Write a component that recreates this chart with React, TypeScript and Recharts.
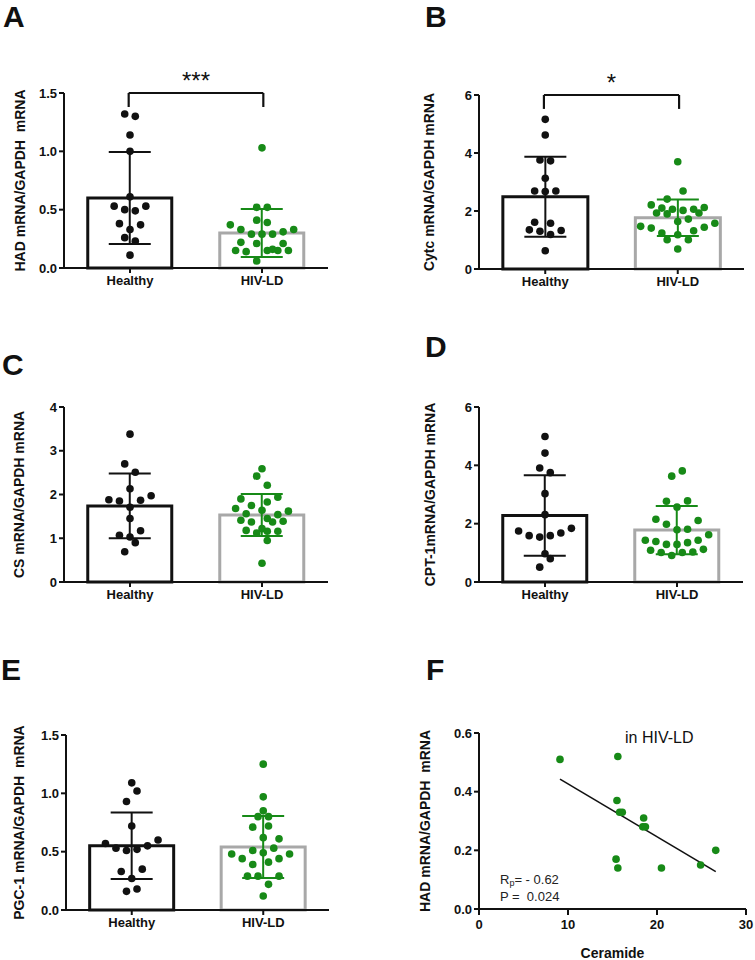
import React from "react";
import {
  Bar,
  Cell,
  ComposedChart,
  ErrorBar,
  ReferenceLine,
  Scatter,
  XAxis,
  YAxis,
} from "recharts";

const FONT = "'Liberation Sans', Arial, Helvetica, sans-serif";
const INK = "#111111";
const GREY = "#a8a8a8";
const GREEN = "#178a17";

const groups = ["Healthy", "HIV-LD"];

// A - HAD
const hadMean = [0.6, 0.3];
const hadSd = [0.395, 0.205];
const hadHealthy = [1.32, 1.3, 1.14, 1.0, 0.61, 0.53, 0.5, 0.49, 0.53, 0.38, 0.37, 0.33, 0.26, 0.23, 0.11];
const hadHealthyLane = [-1, 1, 0, 0, 0, -3, -1, 1, 3, -2, 2, 0, -1, 1, 0];
const hadHiv = [1.03, 0.52, 0.52, 0.37, 0.41, 0.39, 0.33, 0.29, 0.29, 0.29, 0.31, 0.33, 0.22, 0.21, 0.21, 0.15, 0.14, 0.15, 0.16, 0.15, 0.15, 0.06];
const hadHivLane = [0, -1, 1, -6, -1, 1, -4, -2, 0, 2, 4, 6, -4, -1, 4, -5, -3, 1, 2, 3, 5, -1];

// B - Cytc
const cytcMean = [2.49, 1.77];
const cytcSd = [1.38, 0.63];
const cytcHealthy = [5.16, 4.62, 3.76, 3.73, 3.13, 2.69, 2.67, 2.69, 1.61, 1.58, 1.35, 1.3, 1.19, 1.33, 0.63];
const cytcHealthyLane = [0, 0, -1, 1, 0, -2, 0, 2, -2, 1, -3, -1, 1, 3, 0];
const cytcHiv = [3.7, 2.69, 2.41, 2.21, 2.1, 2.06, 2.02, 2.06, 2.12, 1.93, 1.9, 1.93, 1.64, 1.72, 1.47, 1.41, 1.58, 1.44, 1.24, 1.18, 1.32, 1.01, 1.01, 0.69];
const cytcHivLane = [0, 1, -2, -5, -3, -1, 1, 3, 5, -4, -2, 4, 0, 2, -7, -5, 7, 5, -3, 0, 3, -2, 2, 0];

// C - CS
const csMean = [1.74, 1.53];
const csSd = [0.74, 0.48];
const csHealthy = [3.38, 2.7, 2.51, 2.13, 1.88, 1.85, 1.87, 1.97, 1.71, 1.45, 1.07, 1.17, 1.03, 0.9, 0.69];
const csHealthyLane = [0, -1, 1, 0, -4, -2, 2, 4, 0, 0, -2, 2, 0, 1, -1];
const csHiv = [2.59, 2.42, 2.21, 1.9, 1.75, 1.94, 1.83, 1.68, 1.56, 1.64, 1.54, 1.62, 1.41, 1.37, 1.45, 1.37, 1.39, 1.18, 1.22, 1.12, 1.16, 1.16, 0.95, 0.43];
const csHivLane = [0, -1, 1, -4, -2, 3, 1, -5, -3, 0, 3, 5, -4, -2, 1, 2, 4, -3, 0, -1, 1, 3, 1, 0];

// D - CPT-1
const cptMean = [2.28, 1.78];
const cptSd = [1.38, 0.83];
const cptHealthy = [4.99, 4.42, 3.91, 3.75, 3.03, 2.31, 1.75, 1.59, 1.54, 1.59, 1.68, 1.84, 0.97, 0.8, 0.51];
const cptHealthyLane = [0, 0, -1, 1, 0, 0, -5, -3, -1, 1, 3, 5, 0, 1, -1];
const cptHiv = [3.81, 3.63, 2.77, 2.78, 2.57, 2.15, 1.98, 2.11, 1.79, 1.81, 1.62, 1.43, 1.39, 1.29, 1.29, 1.35, 1.43, 1.09, 1.01, 0.91, 1.01, 1.03, 1.12];
const cptHivLane = [1, -1, -2, 2, 0, -4, -2, 4, 0, 2, 6, -6, -4, -2, 0, 2, 4, -5, -3, -1, 1, 3, 5];

// E - PGC-1
const pgcMean = [0.55, 0.54];
const pgcSd = [0.285, 0.265];
const pgcHealthy = [1.09, 1.02, 0.93, 0.72, 0.57, 0.53, 0.51, 0.52, 0.55, 0.6, 0.33, 0.35, 0.27, 0.16, 0.18];
const pgcHealthyLane = [0, 1, -1, 0, -5, -3, -1, 1, 3, 5, -2, 2, 0, -1, 1];
const pgcHiv = [1.25, 0.97, 0.85, 0.8, 0.8, 0.71, 0.72, 0.62, 0.61, 0.51, 0.49, 0.53, 0.48, 0.44, 0.48, 0.44, 0.39, 0.41, 0.29, 0.29, 0.29, 0.22, 0.12];
const pgcHivLane = [0, 0, 0, -1, 1, -2, 1, 0, 3, -2, 0, 2, -6, -4, 5, 3, -2, 1, -3, -1, 3, 1, 0];

// F - HAD vs ceramide, HIV-LD
const ceramide = [9.1, 15.6, 15.5, 15.8, 16.1, 18.5, 18.4, 18.7, 15.4, 15.6, 20.5, 24.9, 26.6];
const hadHivLd = [0.51, 0.52, 0.37, 0.33, 0.33, 0.31, 0.28, 0.28, 0.17, 0.14, 0.14, 0.15, 0.2];

const LANE = 0.04;

const dot = (color: string) => (props: any) =>
  <circle cx={props.cx} cy={props.cy} r={3.8} fill={color} />;

const tickStyle = { fill: INK, fontSize: 13, fontWeight: 700, fontFamily: FONT };
const axisStyle = { stroke: INK, strokeWidth: 2 };

function yTitle(value: string, offset: number) {
  return {
    value,
    angle: -90,
    position: "insideLeft" as const,
    offset,
    style: { textAnchor: "middle", fontSize: 14, fontWeight: 700, fill: INK, fontFamily: FONT },
  };
}

type Panel = {
  box: [number, number, number, number];
  plot: [number, number, number, number]; // left, right, top, bottom
  domain: [number, number];
  ticks: number[];
  decimals: number;
  yLabel: string;
  labelX: number;
  mean: number[];
  sd: number[];
  healthy: number[];
  healthyLane: number[];
  hiv: number[];
  hivLane: number[];
  sig?: string;
};

function DotBarPanel(p: Panel) {
  const [L, T, W, H] = p.box;
  const [pl, pr, pt, pb] = p.plot;
  const xh = 30;
  const rows = groups.map((g, i) => ({
    group: g,
    mean: p.mean[i],
    sdHealthy: i === 0 ? p.sd[0] : undefined,
    sdHiv: i === 1 ? p.sd[1] : undefined,
  }));
  const healthyPts = p.healthy.map((v, i) => ({ x: 0.5 + p.healthyLane[i] * LANE, y: v }));
  const hivPts = p.hiv.map((v, i) => ({ x: 1.5 + p.hivLane[i] * LANE, y: v }));
  const top = p.domain[1];
  const drop = top - top * 0.08;

  return (
    <div style={{ position: "absolute", left: L, top: T }}>
      <ComposedChart
        width={W}
        height={H}
        data={rows}
        barCategoryGap="18%"
        margin={{ top: pt - T, right: L + W - pr, bottom: T + H - pb - xh, left: 0 }}
      >
        <XAxis
          xAxisId="cat"
          dataKey="group"
          height={xh}
          axisLine={axisStyle}
          tickLine={axisStyle}
          tickSize={5}
          tickMargin={3}
          tick={tickStyle}
        />
        <XAxis xAxisId="num" type="number" dataKey="x" domain={[0, 2]} hide />
        <YAxis
          type="number"
          domain={p.domain}
          ticks={p.ticks}
          width={pl - L}
          axisLine={axisStyle}
          tickLine={axisStyle}
          tickSize={5}
          tickMargin={2}
          tick={tickStyle}
          tickFormatter={(v: number) => v.toFixed(p.decimals)}
          label={yTitle(p.yLabel, p.labelX)}
        />
        <Bar xAxisId="cat" dataKey="mean" fill="#ffffff" strokeWidth={3} isAnimationActive={false}>
          <Cell stroke={INK} />
          <Cell stroke={GREY} />
          <ErrorBar dataKey="sdHealthy" direction="y" width={21} stroke={INK} strokeWidth={2} />
          <ErrorBar dataKey="sdHiv" direction="y" width={21} stroke={GREEN} strokeWidth={2} />
        </Bar>
        <Scatter xAxisId="num" data={healthyPts} dataKey="y" shape={dot(INK)} isAnimationActive={false} />
        <Scatter xAxisId="num" data={hivPts} dataKey="y" shape={dot(GREEN)} isAnimationActive={false} />
        {p.sig && (
          <ReferenceLine
            xAxisId="num"
            segment={[{ x: 0.49, y: top }, { x: 1.51, y: top }]}
            stroke={INK}
            strokeWidth={2.2}
            ifOverflow="visible"
            label={{ value: p.sig, position: "top", offset: 4, style: { fontSize: 24, fill: INK, fontFamily: FONT } }}
          />
        )}
        {p.sig && (
          <ReferenceLine
            xAxisId="num"
            segment={[{ x: 0.49, y: top }, { x: 0.49, y: drop }]}
            stroke={INK}
            strokeWidth={2.2}
            ifOverflow="visible"
          />
        )}
        {p.sig && (
          <ReferenceLine
            xAxisId="num"
            segment={[{ x: 1.51, y: top }, { x: 1.51, y: drop }]}
            stroke={INK}
            strokeWidth={2.2}
            ifOverflow="visible"
          />
        )}
      </ComposedChart>
    </div>
  );
}

function CorrelationPanel() {
  const pts = ceramide.map((c, i) => ({ x: c, y: hadHivLd[i] }));
  const n = pts.length;
  const mx = ceramide.reduce((a, b) => a + b, 0) / n;
  const my = hadHivLd.reduce((a, b) => a + b, 0) / n;
  let sxy = 0;
  let sxx = 0;
  pts.forEach((d) => {
    sxy += (d.x - mx) * (d.y - my);
    sxx += (d.x - mx) * (d.x - mx);
  });
  const slope = sxy / sxx;
  const fit = (x: number) => my + slope * (x - mx);
  const x0 = Math.min(...ceramide);
  const x1 = Math.max(...ceramide);
  const [L, T, W, H] = [377, 620, 378, 340];

  return (
    <div style={{ position: "absolute", left: L, top: T }}>
      <ComposedChart width={W} height={H} margin={{ top: 113, right: 9, bottom: 0, left: 0 }}>
        <XAxis
          type="number"
          dataKey="x"
          domain={[0, 30]}
          ticks={[0, 10, 20, 30]}
          height={51}
          axisLine={axisStyle}
          tickLine={axisStyle}
          tickSize={6}
          tickMargin={5}
          tick={tickStyle}
          label={{
            value: "Ceramide",
            position: "insideBottom",
            offset: 2,
            style: { fontSize: 14, fontWeight: 700, fill: INK, fontFamily: FONT },
          }}
        />
        <YAxis
          type="number"
          domain={[0, 0.6]}
          ticks={[0, 0.2, 0.4, 0.6]}
          width={102}
          axisLine={axisStyle}
          tickLine={axisStyle}
          tickSize={5}
          tickMargin={2}
          tick={tickStyle}
          tickFormatter={(v: number) => v.toFixed(1)}
          label={yTitle("HAD mRNA/GAPDH\u00a0 mRNA", 48)}
        />
        <Scatter data={pts} dataKey="y" shape={dot(GREEN)} isAnimationActive={false} />
        <ReferenceLine
          segment={[{ x: x0, y: fit(x0) }, { x: x1, y: fit(x1) }]}
          stroke={INK}
          strokeWidth={1.6}
        />
      </ComposedChart>
    </div>
  );
}

export default function App() {
  return (
    <div
      style={{
        position: "absolute",
        left: 0,
        top: 0,
        width: 755,
        height: 960,
        background: "#ffffff",
        overflow: "hidden",
        fontFamily: FONT,
      }}
    >
      <DotBarPanel
        box={[0, 0, 377, 300]}
        plot={[64, 328, 93, 268]}
        domain={[0, 1.5]}
        ticks={[0, 0.5, 1, 1.5]}
        decimals={1}
        yLabel={"HAD mRNA/GAPDH\u00a0 mRNA"}
        labelX={20}
        mean={hadMean}
        sd={hadSd}
        healthy={hadHealthy}
        healthyLane={hadHealthyLane}
        hiv={hadHiv}
        hivLane={hadHivLane}
        sig="***"
      />
      <DotBarPanel
        box={[377, 0, 378, 300]}
        plot={[479, 744, 95, 269]}
        domain={[0, 6]}
        ticks={[0, 2, 4, 6]}
        decimals={0}
        yLabel="Cytc mRNA/GAPDH mRNA"
        labelX={52}
        mean={cytcMean}
        sd={cytcSd}
        healthy={cytcHealthy}
        healthyLane={cytcHealthyLane}
        hiv={cytcHiv}
        hivLane={cytcHivLane}
        sig="*"
      />
      <DotBarPanel
        box={[0, 300, 377, 315]}
        plot={[64, 328, 407, 582]}
        domain={[0, 4]}
        ticks={[0, 1, 2, 3, 4]}
        decimals={0}
        yLabel="CS mRNA/GAPDH mRNA"
        labelX={19}
        mean={csMean}
        sd={csSd}
        healthy={csHealthy}
        healthyLane={csHealthyLane}
        hiv={csHiv}
        hivLane={csHivLane}
      />
      <DotBarPanel
        box={[377, 300, 378, 315]}
        plot={[479, 743, 407, 582]}
        domain={[0, 6]}
        ticks={[0, 2, 4, 6]}
        decimals={0}
        yLabel="CPT-1mRNA/GAPDH mRNA"
        labelX={53}
        mean={cptMean}
        sd={cptSd}
        healthy={cptHealthy}
        healthyLane={cptHealthyLane}
        hiv={cptHiv}
        hivLane={cptHivLane}
      />
      <DotBarPanel
        box={[0, 620, 377, 320]}
        plot={[66, 329, 735, 910]}
        domain={[0, 1.5]}
        ticks={[0, 0.5, 1, 1.5]}
        decimals={1}
        yLabel={"PGC-1 mRNA/GAPDH\u00a0 mRNA"}
        labelX={19}
        mean={pgcMean}
        sd={pgcSd}
        healthy={pgcHealthy}
        healthyLane={pgcHealthyLane}
        hiv={pgcHiv}
        hivLane={pgcHivLane}
      />
      <CorrelationPanel />

      <svg
        width={755}
        height={960}
        style={{ position: "absolute", left: 0, top: 0, pointerEvents: "none" }}
        fontFamily={FONT}
      >
        <g fontSize={30} fontWeight={700} fill={INK}>
          <text x={3} y={27}>A</text>
          <text x={425} y={27}>B</text>
          <text x={2} y={375}>C</text>
          <text x={425} y={357}>D</text>
          <text x={1} y={680}>E</text>
          <text x={426} y={680}>F</text>
        </g>
        <text x={625} y={743} fontSize={16} fill={INK}>in HIV-LD</text>
        <text x={500} y={884} fontSize={13} fill="#222">
          R<tspan fontSize={9} dy={2}>p</tspan>
          <tspan dy={-2}>= - 0.62</tspan>
        </text>
        <text x={500} y={901} fontSize={13} fill="#222" xmlSpace="preserve">P =  0.024</text>
      </svg>
    </div>
  );
}
